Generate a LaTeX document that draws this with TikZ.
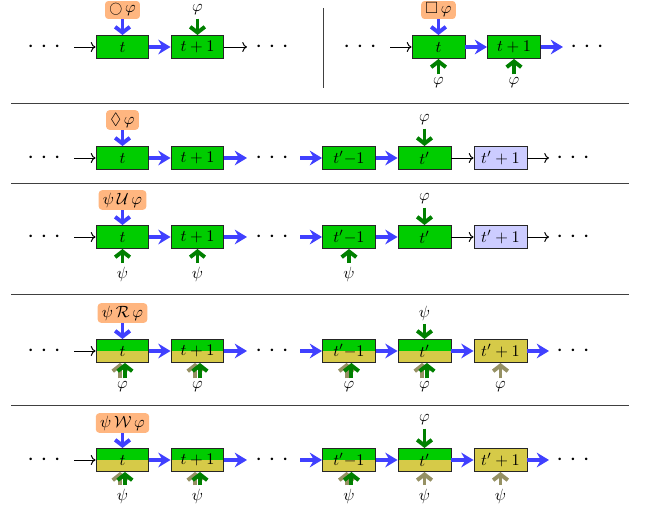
\documentclass[tikz,border=0pt]{standalone}
\usepackage{amsmath,amssymb}
\usetikzlibrary{arrows.meta}
\definecolor{boxgreen}{RGB}{0,204,0}
\definecolor{darkgr}{RGB}{0,128,0}
\definecolor{arrblue}{RGB}{64,64,255}
\definecolor{lav}{RGB}{204,204,255}
\definecolor{ylw}{RGB}{214,202,72}
\definecolor{oliv}{RGB}{150,145,100}
\definecolor{lblor}{RGB}{255,182,128}
\newcommand\mydt{\scalebox{1.5}{$\cdot$}}
\newcommand\mydts{\mydt\hspace{4pt}\mydt\hspace{4pt}\mydt}
\tikzset{
 st/.style={draw=black!85, line width=0.6pt, fill=boxgreen, minimum width=32.5pt, minimum height=14.1pt, inner sep=0pt},
 lv/.style={st, fill=lav},
 yl/.style={st, fill=ylw},
 sp/.style={st, path picture={\fill[ylw] (path picture bounding box.south west) rectangle (path picture bounding box.east);}},
 lbl/.style={fill=lblor, rounded corners=2pt, inner xsep=2.6pt, inner ysep=0pt, minimum height=12pt},
 sm/.style={inner sep=2pt},
 dts/.style={inner sep=0pt},
 ba/.style={draw=arrblue, line width=2.4pt, -{Stealth[length=7.5pt,width=9pt,inset=2.5pt]}},
 bda/.style={draw=arrblue, line width=2.4pt, -{Straight Barb[length=3.5pt,width=9pt]}},
 ga/.style={draw=darkgr, line width=2.4pt, -{Straight Barb[length=3.5pt,width=9pt]}},
 oa/.style={ga, draw=oliv},
 ka/.style={->, line width=0.6pt},
 sep/.style={draw=black!75, line width=0.6pt}
}
\begin{document}
\begin{tikzpicture}[x=0.6135pt,y=-0.6135pt]
\useasboundingbox (0,0) rectangle (646,510);
% separators
\coordinate (v1) at (323,8); \coordinate (v2) at (323,88);
\draw[sep] (v1) -- (v2);
\foreach \yy in {103,183,294,405} {\draw[sep] (11,\yy) -- (629,\yy);}
% ---------- Row 1 left
\node[dts] (d1a) at (44,47) {\mydts};
\coordinate (s1a) at (74,47);
\node[st] (a1) at (122.5,47) {$t$};
\node[st] (a2) at (197.5,47) {$t+1$};
\coordinate (e1a) at (247,47);
\node[dts] (d1b) at (272,47) {\mydts};
\draw[ka] (s1a) -- (a1);
\draw[ba] (a1) -- (a2);
\draw[ka] (a2) -- (e1a);
\node[lbl, minimum height=11pt] (l1a) at (122.5,10) {\scalebox{0.8}{$\bigcirc$}$\,\varphi$};
\draw[bda] (l1a) -- (a1);
\node[sm] (p1a) at (197.5,10) {$\varphi$};
\draw[ga] (p1a) -- (a2);
% ---------- Row 1 right
\node[dts] (d1c) at (360,47) {\mydts};
\coordinate (s1b) at (390,47);
\node[st] (a3) at (438.5,47) {$t$};
\node[st] (a4) at (514,47) {$t+1$};
\coordinate (e1b) at (563,47);
\node[dts] (d1d) at (587,47) {\mydts};
\draw[ka] (s1b) -- (a3);
\draw[ba] (a3) -- (a4);
\draw[ba] (a4) -- (e1b);
\node[lbl, minimum height=11pt] (l1b) at (438.5,10) {$\Box\,\varphi$};
\draw[bda] (l1b) -- (a3);
\node[sm] (q1a) at (438.5,83) {$\varphi$};
\node[sm] (q1b) at (514,83) {$\varphi$};
\draw[ga] (q1a) -- (a3);
\draw[ga] (q1b) -- (a4);
% ---------- Row 2
\node[dts] (d2a) at (44,158) {\mydts};
\coordinate (s2a) at (74,158);
\node[st] (b2a) at (122.5,158) {$t$};
\node[st] (b2b) at (197.5,158) {$t+1$};
\coordinate (e2a) at (247,158);
\node[dts] (d2b) at (272,158) {\mydts};
\coordinate (s2b) at (300,158);
\node[st] (b2c) at (349,158) {$t'{-}1$};
\node[st] (b2d) at (424.5,158) {$t'$};
\node[lv] (b2e) at (500.5,158) {$t'+1$};
\coordinate (e2b) at (549,158);
\node[dts] (d2c) at (573,158) {\mydts};
\draw[ka] (s2a) -- (b2a);
\draw[ba] (b2a) -- (b2b);
\draw[ba] (b2b) -- (e2a);
\draw[ba] (s2b) -- (b2c);
\draw[ba] (b2c) -- (b2d);
\draw[ka] (b2d) -- (b2e);
\draw[ka] (b2e) -- (e2b);
\node[lbl] (l2) at (122.5,120) {$\Diamond\,\varphi$};
\draw[bda] (l2) -- (b2a);
\node[sm] (p2) at (424.5,120) {$\varphi$};
\draw[ga] (p2) -- (b2d);
% ---------- Row 3
\node[dts] (d3a) at (44,237) {\mydts};
\coordinate (s3a) at (74,237);
\node[st] (b3a) at (122.5,237) {$t$};
\node[st] (b3b) at (197.5,237) {$t+1$};
\coordinate (e3a) at (247,237);
\node[dts] (d3b) at (272,237) {\mydts};
\coordinate (s3b) at (300,237);
\node[st] (b3c) at (349,237) {$t'{-}1$};
\node[st] (b3d) at (424.5,237) {$t'$};
\node[lv] (b3e) at (500.5,237) {$t'+1$};
\coordinate (e3b) at (549,237);
\node[dts] (d3c) at (573,237) {\mydts};
\draw[ka] (s3a) -- (b3a);
\draw[ba] (b3a) -- (b3b);
\draw[ba] (b3b) -- (e3a);
\draw[ba] (s3b) -- (b3c);
\draw[ba] (b3c) -- (b3d);
\draw[ka] (b3d) -- (b3e);
\draw[ka] (b3e) -- (e3b);
\node[lbl] (l3) at (122.5,200) {$\psi\,\mathcal{U}\,\varphi$};
\draw[bda] (l3) -- (b3a);
\node[sm] (p3) at (424.5,199) {$\varphi$};
\draw[ga] (p3) -- (b3d);
\node[sm] (q3a) at (122.5,274) {$\psi$};
\node[sm] (q3b) at (197.5,274) {$\psi$};
\node[sm] (q3c) at (349,274) {$\psi$};
\draw[ga] (q3a) -- (b3a);
\draw[ga] (q3b) -- (b3b);
\draw[ga] (q3c) -- (b3c);
% ---------- Row 4
\node[dts] (d4a) at (44,351) {\mydts};
\coordinate (s4a) at (74,351);
\node[sp] (b4a) at (122.5,351) {$t$};
\node[sp] (b4b) at (197.5,351) {$t+1$};
\coordinate (e4a) at (247,351);
\node[dts] (d4b) at (272,351) {\mydts};
\coordinate (s4b) at (300,351);
\node[sp] (b4c) at (349,351) {$t'{-}1$};
\node[sp] (b4d) at (424.5,351) {$t'$};
\node[yl] (b4e) at (500.5,351) {$t'+1$};
\coordinate (e4b) at (549,351);
\node[dts] (d4c) at (573,351) {\mydts};
\draw[ka] (s4a) -- (b4a);
\draw[ba] (b4a) -- (b4b);
\draw[ba] (b4b) -- (e4a);
\draw[ba] (s4b) -- (b4c);
\draw[ba] (b4c) -- (b4d);
\draw[ba] (b4d) -- (b4e);
\draw[ba] (b4e) -- (e4b);
\node[lbl] (l4) at (122.5,313) {$\psi\,\mathcal{R}\,\varphi$};
\draw[bda] (l4) -- (b4a);
\node[sm] (p4) at (424.5,313) {$\psi$};
\draw[ga] (p4) -- (b4d);
\foreach \nm/\xx in {a/122.5,b/197.5,c/349,d/424.5} {
  \node[sm] (q4\nm) at (\xx,387) {$\varphi$};
  \draw[oa] ([xshift=-1.5pt]q4\nm.north) -- ([xshift=-1.5pt]b4\nm.south);
  \draw[ga] ([xshift=1.5pt]q4\nm.north) -- ([xshift=1.5pt]b4\nm.south);
}
\node[sm] (q4e) at (500.5,387) {$\varphi$};
\draw[oa] (q4e) -- (b4e);
% ---------- Row 5
\node[dts] (d5a) at (44,460) {\mydts};
\coordinate (s5a) at (74,460);
\node[sp] (b5a) at (122.5,460) {$t$};
\node[sp] (b5b) at (197.5,460) {$t+1$};
\coordinate (e5a) at (247,460);
\node[dts] (d5b) at (272,460) {\mydts};
\coordinate (s5b) at (300,460);
\node[sp] (b5c) at (349,460) {$t'{-}1$};
\node[sp] (b5d) at (424.5,460) {$t'$};
\node[yl] (b5e) at (500.5,460) {$t'+1$};
\coordinate (e5b) at (549,460);
\node[dts] (d5c) at (573,460) {\mydts};
\draw[ka] (s5a) -- (b5a);
\draw[ba] (b5a) -- (b5b);
\draw[ba] (b5b) -- (e5a);
\draw[ba] (s5b) -- (b5c);
\draw[ba] (b5c) -- (b5d);
\draw[ba] (b5d) -- (b5e);
\draw[ba] (b5e) -- (e5b);
\node[lbl] (l5) at (122.5,423) {$\psi\,\mathcal{W}\,\varphi$};
\draw[bda] (l5) -- (b5a);
\node[sm] (p5) at (424.5,420) {$\varphi$};
\draw[ga] (p5) -- (b5d);
\foreach \nm/\xx in {a/122.5,b/197.5,c/349} {
  \node[sm] (q5\nm) at (\xx,496) {$\psi$};
  \draw[oa] ([xshift=-1.5pt]q5\nm.north) -- ([xshift=-1.5pt]b5\nm.south);
  \draw[ga] ([xshift=1.5pt]q5\nm.north) -- ([xshift=1.5pt]b5\nm.south);
}
\node[sm] (q5d) at (424.5,496) {$\psi$};
\draw[oa] (q5d) -- (b5d);
\node[sm] (q5e) at (500.5,496) {$\psi$};
\draw[oa] (q5e) -- (b5e);
\end{tikzpicture}
\end{document}
